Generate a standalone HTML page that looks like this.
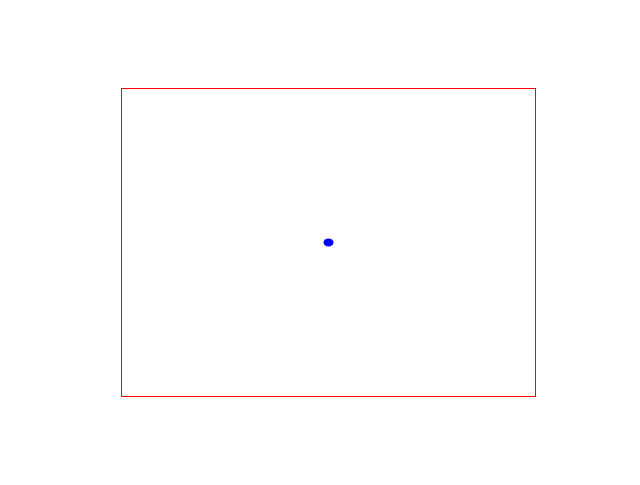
<!DOCTYPE html>
<html><head><meta charset="utf-8"><style>html,body{margin:0;padding:0;background:#fff;}</style></head>
<body>
<svg id="chart" width="640" height="480" xmlns="http://www.w3.org/2000/svg">
<rect x="121.5" y="88.5" width="414" height="308" fill="none" stroke="#ff0000" stroke-width="1"/>
<g id="marks"></g>
</svg>
<script>
const xValues = [0.5];
const yValues = [0.5];
const xDomain = [0, 1];
const yDomain = [0, 1];
function xScale(v){return 121.5 + (v - xDomain[0])/(xDomain[1]-xDomain[0])*414 - 0.5*0 + 0;}
function yScale(v){return 396.5 - (v - yDomain[0])/(yDomain[1]-yDomain[0])*308;}
const g = document.getElementById('marks');
xValues.forEach((xv,i)=>{
  const e = document.createElementNS('http://www.w3.org/2000/svg','ellipse');
  e.setAttribute('cx', xScale(xv));
  e.setAttribute('cy', yScale(yValues[i]));
  e.setAttribute('rx', 5);
  e.setAttribute('ry', 4);
  e.setAttribute('fill', '#0000ff');
  
  
  g.appendChild(e);
});
</script>
</body></html>
